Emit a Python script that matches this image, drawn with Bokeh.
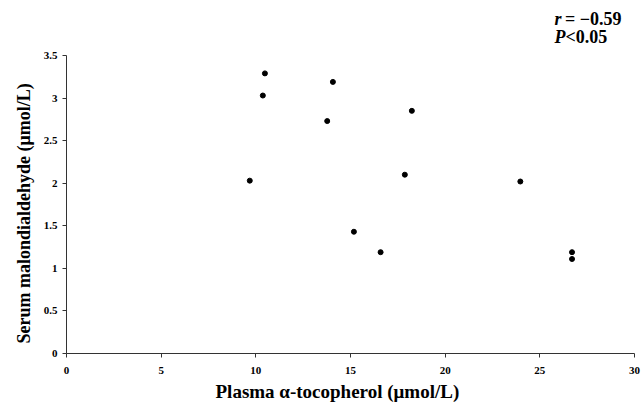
from bokeh.plotting import figure
from bokeh.models import Range1d, FixedTicker, NumeralTickFormatter, Title
from bokeh.core.properties import value
from bokeh.embed import file_html
from bokeh.resources import INLINE

tocopherol = [10.48, 10.37, 14.07, 18.24, 13.77, 9.68, 17.87, 15.18, 16.59, 23.97, 26.7, 26.7]
malondialdehyde = [3.29, 3.03, 3.19, 2.85, 2.73, 2.03, 2.10, 1.43, 1.19, 2.02, 1.19, 1.11]
x_ticks = [0, 5, 10, 15, 20, 25, 30]
y_ticks = [0, 0.5, 1, 1.5, 2, 2.5, 3, 3.5]
stat_italic = ["r", "P"]
stat_rest = ["= −0.59", "<0.05"]
x_title = "Plasma α-tocopherol (μmol/L)"
y_title = "Serum malondialdehyde (μmol/L)"

FONT = "Liberation Serif"

# y axis drawn only over 0–3.5; the frame extends above it to hold the statistics text
p = figure(width=642, height=406, output_backend="svg", toolbar_location=None,
           x_range=Range1d(0, 30), y_range=Range1d(0, 4.146),
           min_border_left=66, min_border_right=8, min_border_top=0, min_border_bottom=53)
p.outline_line_color = None
p.xgrid.visible = False
p.ygrid.visible = False
p.background_fill_color = "white"
p.border_fill_color = "white"

p.scatter(tocopherol, malondialdehyde, size=5, color="black")

for ax in (p.xaxis[0], p.yaxis[0]):
    ax.axis_line_color = "#333333"
    ax.axis_line_width = 1
    ax.major_tick_line_color = "#333333"
    ax.major_tick_in = 0
    ax.major_tick_out = 4
    ax.minor_tick_line_color = None
    ax.major_label_text_font = FONT
    ax.major_label_text_font_style = "bold"
    ax.major_label_text_font_size = "11px"
    ax.major_label_text_color = "black"

p.yaxis.bounds = (0, 3.5)
p.xaxis.ticker = FixedTicker(ticks=x_ticks)
p.yaxis.ticker = FixedTicker(ticks=y_ticks)
p.yaxis.formatter = NumeralTickFormatter(format="0.[0]")
p.xaxis.major_label_standoff = 9
p.yaxis.major_label_standoff = 5

p.add_layout(Title(text=x_title, align="left", offset=149, standoff=4,
                   text_font=FONT, text_font_style="bold", text_font_size="19px",
                   text_color="black"), "below")
p.add_layout(Title(text=y_title, align="left", offset=10, standoff=13,
                   text_font=FONT, text_font_style="bold", text_font_size="18px",
                   text_color="black"), "left")

stat_x_italic = [25.78, 25.78]
stat_x_rest = [26.33, 26.36]
stat_y = [3.925, 3.713]
p.text(x=stat_x_italic, y=stat_y, text=stat_italic, text_font=value(FONT),
       text_font_style="bold italic", text_font_size="18px", text_color="black",
       text_baseline="middle", text_align="left")
p.text(x=stat_x_rest, y=stat_y, text=stat_rest, text_font=value(FONT),
       text_font_style="bold", text_font_size="18px", text_color="black",
       text_baseline="middle", text_align="left")

open("out.html", "w").write(file_html(p, INLINE))
